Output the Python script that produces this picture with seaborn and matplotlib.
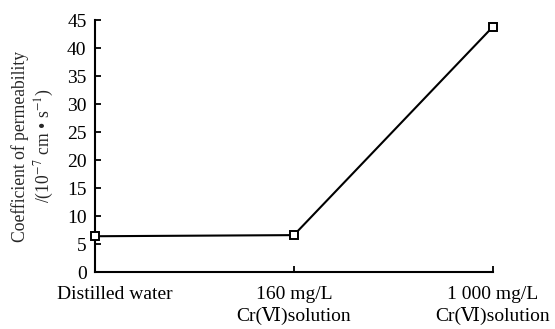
import matplotlib
matplotlib.use("Agg")
import matplotlib.pyplot as plt
import matplotlib.transforms as mtransforms
import seaborn as sns
import pandas as pd

# Permeability coefficient for each permeating liquid
categories = ["Distilled water", "160 mg/L\nCr(Ⅵ)solution", "1 000 mg/L\nCr(Ⅵ)solution"]
permeability = [6.4, 6.6, 43.8]
y_ticks = [0, 5, 10, 15, 20, 25, 30, 35, 40, 45]

sns.set_style("ticks")
plt.rcParams["font.family"] = ["Liberation Serif", "DejaVu Serif", "Noto Sans CJK SC"]
plt.rcParams["mathtext.fontset"] = "stix"

df = pd.DataFrame({"pos": range(len(categories)), "k": permeability})

fig = plt.figure(figsize=(5.55, 3.29), dpi=100)
ax = fig.add_axes([0.171, 0.173, 0.717, 0.766])

sns.lineplot(data=df, x="pos", y="k", ax=ax, color="black", linewidth=1.5,
             marker="s", markersize=5.5, markerfacecolor="white",
             markeredgecolor="black", markeredgewidth=1.4, clip_on=False,
             zorder=5)

ax.set_xlim(0, len(categories) - 1)
ax.set_ylim(0, 45)
ax.set_yticks(y_ticks)
ax.set_xticks(range(len(categories)))
ax.set_xticklabels(categories, fontsize=14, linespacing=1.3)
ax.tick_params(axis="y", labelsize=14, pad=6)
ax.tick_params(axis="x", pad=10)
ax.tick_params(direction="in", length=4.5, width=1.3, colors="black")
ax.set_xlabel("")
ax.set_ylabel("Coefficient of permeability\n/(10$^{-7}$ cm • s$^{-1}$)",
              fontsize=12.7, linespacing=1.25, labelpad=8)

# nudge the first category label to the right of the vertical axis
first = ax.get_xticklabels()[0]
first.set_transform(first.get_transform() +
                    mtransforms.ScaledTranslation(20 / 100, 0, fig.dpi_scale_trans))

for side in ("top", "right"):
    ax.spines[side].set_visible(False)
for side in ("left", "bottom"):
    ax.spines[side].set_linewidth(1.5)
    ax.spines[side].set_color("black")

fig.savefig("out.png", dpi=100)
